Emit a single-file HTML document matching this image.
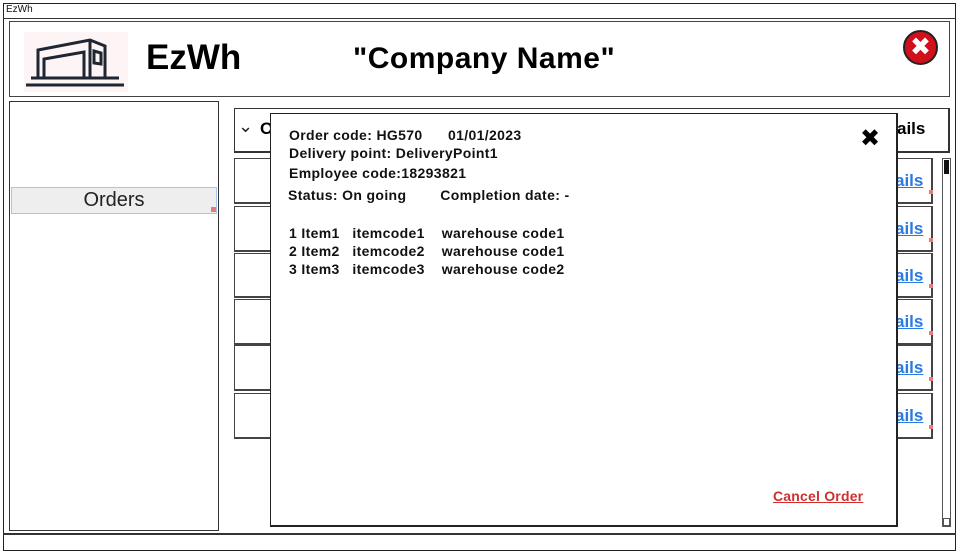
<!DOCTYPE html>
<html><head><meta charset="utf-8"><style>
*{margin:0;padding:0;box-sizing:border-box}
body{width:959px;height:554px;background:#fff;position:relative;overflow:hidden;font-family:"Liberation Sans","DejaVu Sans",sans-serif}
.a{position:absolute}
.b{border:1px solid #333}
.t{position:absolute;font-weight:bold;font-size:14px;color:#111;white-space:pre;letter-spacing:0.35px}
.row{position:absolute;left:234px;width:699px;border:1px solid #444;border-right:2px solid #444;border-bottom:2px solid #444;background:#fff}
.lk{position:absolute;left:660px;top:12px;color:#2a7ae2;font-weight:bold;font-size:17px;text-decoration:underline}
.mk{position:absolute;right:-2px;bottom:8px;width:4px;height:4px;background:#e87a7a}
</style></head><body>
<div class="a" style="left:3px;top:3px;width:953px;height:548px;border:1px solid #222"></div>
<div class="a" style="left:3px;top:18px;width:953px;height:1px;background:#333"></div>
<div class="a" style="left:6px;top:4px;font-size:10px;color:#111">EzWh</div>
<div class="a" style="left:3px;top:533px;width:953px;height:2px;background:#333"></div>

<div class="a b" style="left:9px;top:21px;width:941px;height:76px;border-color:#444"></div>
<div class="a" style="left:24px;top:32px;width:104px;height:60px;background:#fdf5f5">
<svg width="104" height="60" viewBox="0 0 104 60"><g fill="none" stroke="#1e2533" stroke-width="3">
<line x1="2" y1="53" x2="100" y2="53"/><line x1="7" y1="46" x2="95" y2="46"/>
<path d="M14 46 V18 L66 8 L81 14 V46"/><path d="M20 46 V27 L60 20 V46"/><line x1="66" y1="8" x2="66" y2="46"/>
<path d="M70 19 L77 21 V32 L70 31 Z"/></g></svg></div>
<div class="a" style="left:146px;top:38px;font-size:35px;font-weight:bold;color:#000">EzWh</div>
<div class="a" style="left:353px;top:42px;font-size:30px;font-weight:bold;color:#000;letter-spacing:0.5px">"Company Name"</div>
<div class="a" style="left:903px;top:30px;width:35px;height:35px;border-radius:50%;background:#d0101a;border:2px solid #222;color:#fff;font-size:25px;font-weight:bold;text-align:center;line-height:30px">✖</div>

<div class="a b" style="left:9px;top:101px;width:210px;height:430px"></div>
<div class="a" style="left:11px;top:187px;width:206px;height:27px;background:#eeeeee;border:1px solid #a8c4e8;text-align:center;font-size:20px;line-height:25px;color:#222">Orders</div>
<div class="a" style="left:211px;top:207px;width:5px;height:5px;background:#e87a7a"></div>

<div class="a b" style="left:234px;top:108px;width:716px;height:45px;border-right:2px solid #333;border-bottom:2px solid #333"></div>
<div class="a" style="left:238px;top:116px;font-size:18px;color:#222">⌄</div>
<div class="a" style="left:260px;top:119px;font-size:17px;font-weight:bold">O</div>
<div class="a" style="left:897px;top:119px;font-size:17px;font-weight:bold">ails</div>

<div class="row" style="top:158px;height:46px"><span class="lk">ails</span><span class="mk"></span></div>
<div class="row" style="top:206px;height:46px"><span class="lk">ails</span><span class="mk"></span></div>
<div class="row" style="top:253px;height:45px"><span class="lk">ails</span><span class="mk"></span></div>
<div class="row" style="top:299px;height:46px"><span class="lk">ails</span><span class="mk"></span></div>
<div class="row" style="top:345px;height:46px"><span class="lk">ails</span><span class="mk"></span></div>
<div class="row" style="top:393px;height:46px"><span class="lk">ails</span><span class="mk"></span></div>

<div class="a" style="left:942px;top:158px;width:9px;height:369px;border:1px solid #555"></div>
<div class="a" style="left:944px;top:160px;width:5px;height:14px;background:#111"></div>
<div class="a" style="left:943px;top:518px;width:7px;height:8px;border:1px solid #555"></div>

<div class="a" style="left:270px;top:113px;width:628px;height:414px;background:#fff;border:1px solid #222;border-right:2px solid #222;border-bottom:2px solid #222"></div>
<div class="a" style="left:860px;top:124px;font-size:24px;font-weight:bold;color:#000">✖</div>
<div class="t" style="left:289px;top:127px">Order code: HG570      01/01/2023</div>
<div class="t" style="left:289px;top:145px">Delivery point: DeliveryPoint1</div>
<div class="t" style="left:289px;top:165px">Employee code:18293821</div>
<div class="t" style="left:288px;top:187px">Status: On going        Completion date: -</div>
<div class="t" style="left:289px;top:225px">1 Item1   itemcode1    warehouse code1</div>
<div class="t" style="left:289px;top:243px">2 Item2   itemcode2    warehouse code1</div>
<div class="t" style="left:289px;top:261px">3 Item3   itemcode3    warehouse code2</div>
<div class="a" style="left:773px;top:488px;font-size:14px;font-weight:bold;color:#d12f2f;text-decoration:underline;letter-spacing:0.2px">Cancel Order</div>
</body></html>
